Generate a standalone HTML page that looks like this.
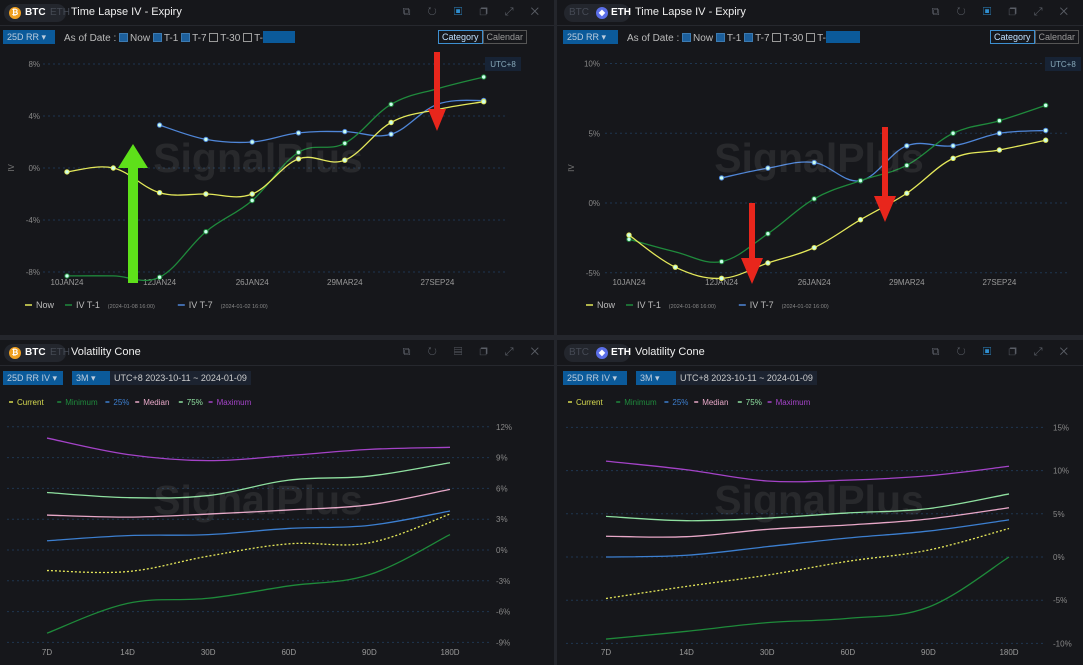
<!DOCTYPE html>
<html><head><meta charset="utf-8"><style>
*{margin:0;padding:0;box-sizing:border-box}
body{width:1083px;height:665px;background:#24262c;font-family:"Liberation Sans",sans-serif;overflow:hidden;position:relative;color:#ddd;white-space:nowrap}
.panel{position:absolute;background:#16171b;overflow:hidden}
.hdr{position:absolute;left:0;right:0;top:0;height:26px;border-bottom:1px solid #26282e}
.pill{position:absolute;left:4px;top:4px;height:18px;width:62px;background:#23262d;border-radius:9px;font-size:10px;font-weight:bold}
.coin{position:absolute;top:3px;width:12px;height:12px;border-radius:6px;font-size:8px;color:#fff;text-align:center;line-height:12px}
.title{position:absolute;left:71px;top:6px;font-size:11px;color:#eee}
.icons{position:absolute;right:8px;top:6px;font-size:11px;color:#5a5e66;letter-spacing:7px}
.tb{position:absolute;left:0;right:0;top:27px;height:22px;font-size:10px;color:#bbb}
.dd{position:absolute;top:3px;height:14px;background:#0b5a9a;color:#bcd;font-size:9px;line-height:14px;padding-left:4px}
.cb{display:inline-block;width:9px;height:9px;border:1px solid #999;vertical-align:-1px;margin-right:2px}
.cb.on{background:#1c5f9c;border-color:#3d7ab0}
.btns{position:absolute;top:3px;font-size:9px;height:14px;line-height:12px;white-space:nowrap}
.btns span{display:inline-block;border:1px solid #555;padding:0 3px;color:#999}
.btns span.a{border-color:#3d8fd0;color:#bfe0ff}
svg{position:absolute;left:0;top:0}
</style></head><body>

<div class="panel" style="left:0;top:0;width:554px;height:335px">
 <div class="hdr">
  <div class="pill"><div class="coin" style="left:5px;background:#f0a020">₿</div><span style="position:absolute;left:21px;top:3px;color:#fff">BTC</span><span style="position:absolute;left:46px;top:3px;color:#454a55;font-weight:normal">ETH</span></div>
  <div class="title">Time Lapse IV - Expiry</div>
  <div class="icons">⧉ ↻ <span style="color:#2f8fd0">▣</span> ❐ ⤢ ✕</div>
 </div>
 <div class="tb">
  <div class="dd" style="left:3px;width:52px">25D RR ▾</div>
  <div style="position:absolute;left:64px;top:4px">As of Date : <span class="cb on"></span>Now <span class="cb on"></span>T-1 <span class="cb on"></span>T-7 <span class="cb"></span>T-30 <span class="cb"></span>T-<span style="display:inline-block;width:32px;height:12px;background:#0b5a9a;vertical-align:-2px"></span></div>
  <div class="btns" style="left:438px"><span class="a">Category</span><span>Calendar</span></div>
 </div>
</div>

<div class="panel" style="left:557px;top:0;width:526px;height:335px">
 <div class="hdr">
  <div class="pill" style="left:7px;width:66px"><span style="position:absolute;left:5px;top:3px;color:#454a55;font-weight:normal">BTC</span><div class="coin" style="left:32px;background:#5a6ee8">◆</div><span style="position:absolute;left:47px;top:3px;color:#fff">ETH</span></div>
  <div class="title" style="left:78px">Time Lapse IV - Expiry</div>
  <div class="icons">⧉ ↻ <span style="color:#2f8fd0">▣</span> ❐ ⤢ ✕</div>
 </div>
 <div class="tb">
  <div class="dd" style="left:6px;width:55px">25D RR ▾</div>
  <div style="position:absolute;left:70px;top:4px">As of Date : <span class="cb on"></span>Now <span class="cb on"></span>T-1 <span class="cb on"></span>T-7 <span class="cb"></span>T-30 <span class="cb"></span>T-<span style="display:inline-block;width:34px;height:12px;background:#0b5a9a;vertical-align:-2px"></span></div>
  <div class="btns" style="left:433px"><span class="a">Category</span><span>Calendar</span></div>
 </div>
</div>

<div class="panel" style="left:0;top:340px;width:554px;height:325px">
 <div class="hdr">
  <div class="pill"><div class="coin" style="left:5px;background:#f0a020">₿</div><span style="position:absolute;left:21px;top:3px;color:#fff">BTC</span><span style="position:absolute;left:46px;top:3px;color:#454a55;font-weight:normal">ETH</span></div>
  <div class="title">Volatility Cone</div>
  <div class="icons">⧉ ↻ ▤ ❐ ⤢ ✕</div>
 </div>
 <div class="tb" style="top:28px">
  <div class="dd" style="left:3px;width:60px">25D RR IV ▾</div>
  <div class="dd" style="left:72px;width:38px">3M ▾</div>
  <div style="position:absolute;left:110px;top:3px;height:14px;line-height:14px;background:#1c2330;padding:0 4px;font-size:9px;color:#ccc">UTC+8 2023-10-11 ~ 2024-01-09</div>
 </div>
</div>

<div class="panel" style="left:557px;top:340px;width:526px;height:325px">
 <div class="hdr">
  <div class="pill" style="left:7px;width:66px"><span style="position:absolute;left:5px;top:3px;color:#454a55;font-weight:normal">BTC</span><div class="coin" style="left:32px;background:#5a6ee8">◆</div><span style="position:absolute;left:47px;top:3px;color:#fff">ETH</span></div>
  <div class="title" style="left:78px">Volatility Cone</div>
  <div class="icons">⧉ ↻ <span style="color:#2f8fd0">▣</span> ❐ ⤢ ✕</div>
 </div>
 <div class="tb" style="top:28px">
  <div class="dd" style="left:6px;width:64px">25D RR IV ▾</div>
  <div class="dd" style="left:79px;width:40px">3M ▾</div>
  <div style="position:absolute;left:119px;top:3px;height:14px;line-height:14px;background:#1c2330;padding:0 4px;font-size:9px;color:#ccc">UTC+8 2023-10-11 ~ 2024-01-09</div>
 </div>
</div>

<svg id="s" width="1083" height="665" xmlns="http://www.w3.org/2000/svg" font-family="Liberation Sans, sans-serif"></svg>

<script>
// ---- Time Lapse data ----
const tlCategories = ['10JAN24','','12JAN24','','26JAN24','','29MAR24','','27SEP24',''];
const btcNow = [-0.3,0.0,-1.9,-2.0,-2.0,0.7,0.6,3.5,4.5,5.1];
const btcT1  = [-8.3,-8.3,-8.4,-4.9,-2.5,1.2,1.9,4.9,6.1,7.0];
const btcT7  = [null,null,3.3,2.2,2.0,2.7,2.8,2.6,4.9,5.2];
const btcTicks = [8,4,0,-4,-8];
const ethNow = [-2.3,-4.6,-5.4,-4.3,-3.2,-1.2,0.7,3.2,3.8,4.5];
const ethT1  = [-2.6,-3.5,-4.2,-2.2,0.3,1.6,2.7,5.0,5.9,7.0];
const ethT7  = [null,null,1.8,2.5,2.9,1.6,4.1,4.1,5.0,5.2];
const ethTicks = [10,5,0,-5];
// ---- Volatility cone data ----
const coneCategories = ['7D','14D','30D','60D','90D','180D'];
const btcMax = [10.9,9.3,8.7,9.2,9.8,10.0];
const btc75  = [5.6,5.1,5.3,6.8,7.2,8.5];
const btcMed = [3.4,3.2,3.5,3.9,4.4,5.9];
const btc25  = [0.9,1.4,1.5,2.1,2.4,3.8];
const btcCur = [-2.0,-2.1,-0.6,0.6,0.7,3.5];
const btcMin = [-8.1,-5.2,-4.7,-3.5,-2.4,1.5];
const btcConeTicks = [12,9,6,3,0,-3,-6,-9];
const ethMax = [11.1,10.1,8.8,8.9,9.4,10.5];
const eth75  = [4.7,4.2,4.5,5.1,5.6,7.3];
const ethMed = [2.4,2.35,3.2,3.7,4.4,5.7];
const eth25  = [0.0,0.2,1.2,2.2,3.0,4.3];
const ethCur = [-4.8,-3.4,-2.1,-0.5,0.8,3.3];
const ethMin = [-9.5,-8.6,-7.6,-7.1,-5.8,0.0];
const ethConeTicks = [15,10,5,0,-5,-10];

const S=document.getElementById('s');
const NS='http://www.w3.org/2000/svg';
function mk(tag,attrs,parent){const e=document.createElementNS(NS,tag);for(const k in attrs)e.setAttribute(k,attrs[k]);(parent||S).appendChild(e);return e;}
function smooth(pts){
  if(pts.length<2)return '';
  let d='M'+pts[0][0]+','+pts[0][1];
  for(let i=0;i<pts.length-1;i++){
    const p0=pts[i-1]||pts[i],p1=pts[i],p2=pts[i+1],p3=pts[i+2]||p2;
    const t=0.18;
    d+=' C'+(p1[0]+(p2[0]-p0[0])*t)+','+(p1[1]+(p2[1]-p0[1])*t)+' '+(p2[0]-(p3[0]-p1[0])*t)+','+(p2[1]-(p3[1]-p1[1])*t)+' '+p2[0]+','+p2[1];
  }
  return d;
}
function watermark(cx,cy){
  const t=mk('text',{x:cx,y:cy,'font-size':41,'font-weight':'bold',fill:'#ffffff','fill-opacity':0.08,'text-anchor':'middle'});
  t.textContent='SignalPlus';
  
  
}

function timeLapse(o){
  const g=mk('g',{});
  
  
  const yS=v=>o.y0-v*o.py;
  const xS=i=>o.x0+i*o.dx;
  o.ticks.forEach(t=>{
    const l=mk('line',{x1:o.gx1,x2:o.gx2,y1:yS(t),y2:yS(t),stroke:'#1f3650','stroke-dasharray':'2,3'},g);
    
    
    const tx=mk('text',{x:o.lx,y:yS(t)+3,'font-size':8,fill:'#888','text-anchor':'end'},g);
    tx.textContent=t+'%';
    
    
  });
  const my=yS(o.ticks[0])+(yS(o.ticks[o.ticks.length-1])-yS(o.ticks[0]))/2;
  const yl=mk('text',{x:o.lx-26,y:my,'font-size':8,fill:'#777',transform:'rotate(-90 '+(o.lx-26)+' '+my+')','text-anchor':'middle'},g);
  yl.textContent='IV';
  
  
  tlCategories.forEach((c,i)=>{ if(!c)return;
    const t=mk('text',{x:xS(i),y:o.xlY,'font-size':8,fill:'#999','text-anchor':'middle'},g);
    t.textContent=c;
    
    
  });
  const utc=mk('rect',{x:o.gx2-22,y:57,width:36,height:14,fill:'#172335'},g);
  
  
  const ut=mk('text',{x:o.gx2-4,y:67,'font-size':8,fill:'#8ab','text-anchor':'middle'},g);
  ut.textContent='UTC+8';
  watermark(o.wx,o.wy);
  const series=[[o.t7,'#4f86d8','iv-t7-line'],[o.t1,'#1f8a3c','iv-t1-line'],[o.now,'#e4e85a','now-line']];
  series.forEach(([arr,col,nm])=>{
    const pts=[];arr.forEach((v,i)=>{if(v!==null)pts.push([xS(i),yS(v)]);});
    const p=mk('path',{d:smooth(pts),fill:'none',stroke:col,'stroke-width':1.3},g);
    
    
    arr.forEach((v,i)=>{ if(v===null||(o.hide&&o.hide[nm]&&o.hide[nm].includes(i)))return;
      const c=mk('circle',{cx:xS(i),cy:yS(v),r:2.2,fill:'#cfe',stroke:col,'stroke-width':1},g);
      
      
    });
  });
  const lg=[['Now','#e4e85a',''],['IV T-1','#1f8a3c','(2024-01-08 16:00)'],['IV T-7','#4f86d8','(2024-01-02 16:00)']];
  let lx=o.legX;
  lg.forEach(([n,c,s])=>{
    const ln=mk('line',{x1:lx,x2:lx+7,y1:o.legY-3,y2:o.legY-3,stroke:c,'stroke-width':1.5},g);
    
    
    const t=mk('text',{x:lx+11,y:o.legY,'font-size':9,fill:'#bbb'},g);
    t.textContent=n;
    const w=n.length*5.3;
    if(s){const t2=mk('text',{x:lx+11+w,y:o.legY,'font-size':5.5,fill:'#888'},g);t2.textContent=s;}
    lx+= s? (w+11+60+10) : 40;
  });
}

function cone(o){
  const g=mk('g',{});
  
  
  const yS=v=>o.y0-v*o.py;
  const xS=i=>o.x0+i*o.dx;
  o.ticks.forEach(t=>{
    const l=mk('line',{x1:o.gx1,x2:o.gx2,y1:yS(t),y2:yS(t),stroke:'#1f3650','stroke-dasharray':'2,3'},g);
    
    
    const tx=mk('text',{x:o.lx,y:yS(t)+3,'font-size':8,fill:'#888'},g);
    tx.textContent=t+'%';
    
    
  });
  coneCategories.forEach((c,i)=>{
    const t=mk('text',{x:xS(i),y:o.xlY,'font-size':8,fill:'#999','text-anchor':'middle'},g);
    t.textContent=c;
    
    
  });
  watermark(o.wx,o.wy);
  const series=[[o.max,'#a443c8','maximum-line'],[o.p75,'#8fe0a0','p75-line'],[o.med,'#e8a8c8','median-line'],[o.p25,'#3c7fd0','p25-line'],[o.min,'#1e8a3a','minimum-line'],[o.cur,'#e6e85a','current-line']];
  series.forEach(([arr,col,nm])=>{
    const p=mk('path',{d:smooth(arr.map((v,i)=>[xS(i),yS(v)])),fill:'none',stroke:col,'stroke-width':1.3},g);
    if(nm==='current-line')p.setAttribute('stroke-dasharray','2,2');
    
    
  });
  const lg=[['Current','#d8dc50'],['Minimum','#1f8a3c'],['25%','#3c7fd0'],['Median','#e8a8c8'],['75%','#8fe0a0'],['Maximum','#a443c8']];
  let lx=o.legX;
  lg.forEach(([n,c])=>{
    const ln=mk('line',{x1:lx,x2:lx+4,y1:o.legY-3,y2:o.legY-3,stroke:c,'stroke-width':1.5},g);
    
    
    const t=mk('text',{x:lx+8,y:o.legY,'font-size':8,fill:c},g);
    t.textContent=n;
    lx+=n.length*4.6+16;
  });
}

timeLapse({name:'btc-time-lapse-chart',now:btcNow,t1:btcT1,t7:btcT7,ticks:btcTicks,y0:168,py:13,x0:67,dx:46.3,gx1:43,gx2:507,lx:40,xlY:285,wx:258,wy:172,legX:25,legY:308,hide:{'iv-t1-line':[1]}});
timeLapse({name:'eth-time-lapse-chart',now:ethNow,t1:ethT1,t7:ethT7,ticks:ethTicks,y0:203,py:13.95,x0:629,dx:46.3,gx1:605,gx2:1067,lx:600,xlY:285,wx:819,wy:172,legX:586,legY:308,hide:{'iv-t1-line':[1],'iv-t7-line':[]}});
cone({name:'btc-vol-cone-chart',max:btcMax,p75:btc75,med:btcMed,p25:btc25,cur:btcCur,min:btcMin,ticks:btcConeTicks,y0:550,py:10.27,x0:47,dx:80.6,gx1:7,gx2:490,lx:496,xlY:655,wx:258,wy:514,legX:9,legY:405});
cone({name:'eth-vol-cone-chart',max:ethMax,p75:eth75,med:ethMed,p25:eth25,cur:ethCur,min:ethMin,ticks:ethConeTicks,y0:557,py:8.64,x0:606,dx:80.6,gx1:566,gx2:1046,lx:1053,xlY:655,wx:819,wy:514,legX:568,legY:405});

function arrow(x,yTail,yTip,col,w,hw,hl,name){
  const dir=yTip<yTail?-1:1;
  const hb=yTip-dir*hl;
  const d='M'+(x-w/2)+','+yTail+' L'+(x-w/2)+','+hb+' L'+(x-hw/2)+','+hb+' L'+x+','+yTip+' L'+(x+hw/2)+','+hb+' L'+(x+w/2)+','+hb+' L'+(x+w/2)+','+yTail+' Z';
  const p=mk('path',{d:d,fill:col});
  
  
}
arrow(133,283,144,'#5ee01a',10,30,24,'green-annotation-arrow');
arrow(437,52,131,'#e8261c',6,18,22,'red-annotation-arrow');
arrow(752,203,284,'#e8261c',6,22,26,'red-annotation-arrow');
arrow(885,127,222,'#e8261c',6,22,26,'red-annotation-arrow');
</script>
</body></html>
